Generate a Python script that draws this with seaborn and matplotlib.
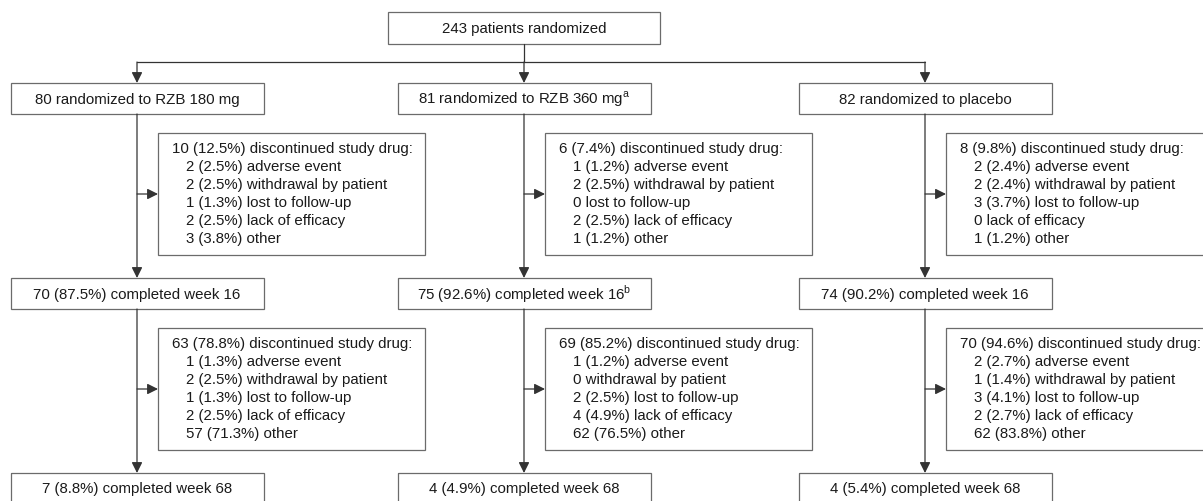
import seaborn as sns
import matplotlib.pyplot as plt
from matplotlib.patches import Rectangle

# flow chart text
total_label = "243 patients randomized"
arm_labels = [
    "80 randomized to RZB 180 mg",
    r"81 randomized to RZB 360 mg$^{\mathregular{a}}$",
    "82 randomized to placebo",
]
week16_labels = [
    "70 (87.5%) completed week 16",
    r"75 (92.6%) completed week 16$^{\mathregular{b}}$",
    "74 (90.2%) completed week 16",
]
week68_labels = [
    "7 (8.8%) completed week 68",
    "4 (4.9%) completed week 68",
    "4 (5.4%) completed week 68",
]
reasons = ["adverse event", "withdrawal by patient", "lost to follow-up",
           "lack of efficacy", "other"]

disc1_headers = ["10 (12.5%)", "6 (7.4%)", "8 (9.8%)"]
disc1_counts = [
    ["2 (2.5%)", "2 (2.5%)", "1 (1.3%)", "2 (2.5%)", "3 (3.8%)"],
    ["1 (1.2%)", "2 (2.5%)", "0", "2 (2.5%)", "1 (1.2%)"],
    ["2 (2.4%)", "2 (2.4%)", "3 (3.7%)", "0", "1 (1.2%)"],
]
disc2_headers = ["63 (78.8%)", "69 (85.2%)", "70 (94.6%)"]
disc2_counts = [
    ["1 (1.3%)", "2 (2.5%)", "1 (1.3%)", "2 (2.5%)", "57 (71.3%)"],
    ["1 (1.2%)", "0", "2 (2.5%)", "4 (4.9%)", "62 (76.5%)"],
    ["2 (2.7%)", "1 (1.4%)", "3 (4.1%)", "2 (2.7%)", "62 (83.8%)"],
]

sns.set_theme(style="white")
plt.rcParams["font.family"] = ["Liberation Sans", "DejaVu Sans"]

fig = plt.figure(figsize=(12.03, 5.01), dpi=100)
ax = fig.add_axes([0, 0, 1, 1])
ax.set_xlim(0, 1203)
ax.set_ylim(501, 0)
ax.axis("off")

FS = 10.8
TXT = "#1a1a1a"
EDGE = "#6b6b6b"
LINE = "#333333"


def box(x0, y0, w, h):
    ax.add_patch(Rectangle((x0, y0), w, h, fill=False, ec=EDGE, lw=0.9))


def arrow(x0, y0, x1, y1):
    ax.annotate("", xy=(x1, y1), xytext=(x0, y0),
                arrowprops=dict(arrowstyle="-|>", color=LINE, lw=0.9,
                                mutation_scale=16, shrinkA=0, shrinkB=0))


def center_box(cx, y0, label, w=253, h=31):
    box(cx - w / 2, y0, w, h)
    ax.text(cx, y0 + h / 2 + 1, label, ha="center", va="center",
            fontsize=FS, color=TXT)


def disc_box(x0, y0, header, counts):
    box(x0, y0, 267, 122)
    ax.text(x0 + 14, y0 + 16, header + " discontinued study drug:",
            ha="left", va="center", fontsize=FS, color=TXT)
    for i, (c, r) in enumerate(zip(counts, reasons)):
        ax.text(x0 + 28, y0 + 16 + 18 * (i + 1), c + " " + r,
                ha="left", va="center", fontsize=FS, color=TXT)


cols = [137, 524, 925]
top_y, arm_y, d1_y, w16_y, d2_y, w68_y = 12, 83, 133, 278, 328, 473

# top box and split
center_box(524, top_y, total_label, w=272, h=32)
ax.plot([524, 524], [top_y + 32, 62], color=LINE, lw=0.9)
ax.plot([cols[0], cols[-1]], [62, 62], color=LINE, lw=0.9)

for k, cx in enumerate(cols):
    arrow(cx, 62, cx, arm_y)
    center_box(cx, arm_y, arm_labels[k])
    arrow(cx, arm_y + 31, cx, w16_y)
    arrow(cx, d1_y + 61, cx + 21, d1_y + 61)
    disc_box(cx + 21, d1_y, disc1_headers[k], disc1_counts[k])
    center_box(cx, w16_y, week16_labels[k])
    arrow(cx, w16_y + 31, cx, w68_y)
    arrow(cx, d2_y + 61, cx + 21, d2_y + 61)
    disc_box(cx + 21, d2_y, disc2_headers[k], disc2_counts[k])
    center_box(cx, w68_y, week68_labels[k])

fig.savefig("out.png", dpi=100)
